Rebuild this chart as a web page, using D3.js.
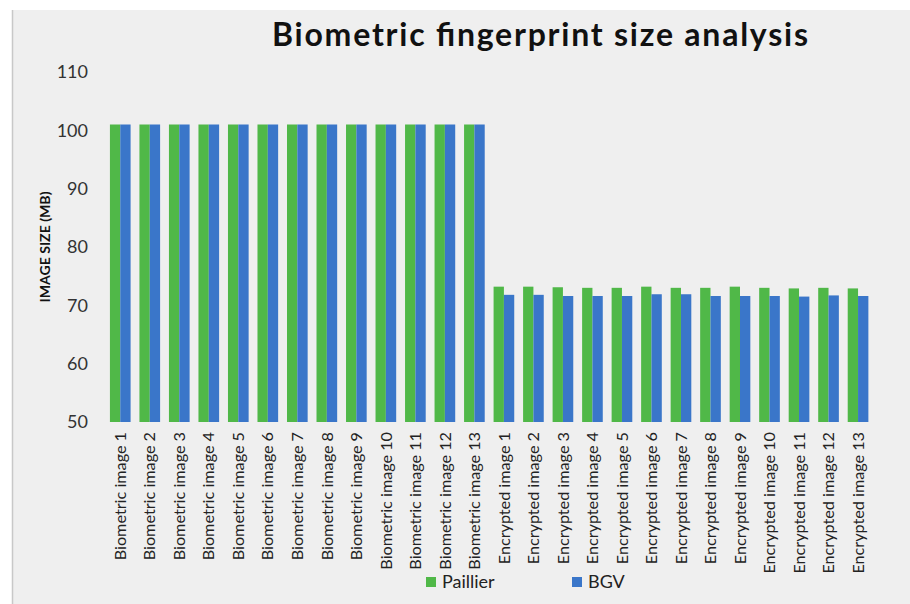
<!DOCTYPE html>
<html>
<head>
<meta charset="utf-8">
<script src="https://cdn.jsdelivr.net/npm/d3@7/dist/d3.min.js"></script>
<style>
  html, body { margin: 0; padding: 0; background: #ffffff; }
  svg { display: block; }
  text { font-family: Lato, "Open Sans", sans-serif; }
</style>
</head>
<body>
<svg id="chart" width="910" height="604"></svg>
<script>
// Image sizes (MB) for plain and encrypted fingerprints
const categories = [
  "Biometric image 1", "Biometric image 2", "Biometric image 3", "Biometric image 4",
  "Biometric image 5", "Biometric image 6", "Biometric image 7", "Biometric image 8",
  "Biometric image 9", "Biometric image 10", "Biometric image 11", "Biometric image 12",
  "Biometric image 13",
  "Encrypted image 1", "Encrypted image 2", "Encrypted image 3", "Encrypted image 4",
  "Encrypted image 5", "Encrypted image 6", "Encrypted image 7", "Encrypted image 8",
  "Encrypted image 9", "Encrypted image 10", "Encrypted image 11", "Encrypted image 12",
  "Encrypted image 13"
];
const seriesNames = ["Paillier", "BGV"];
const paillier = [
  101, 101, 101, 101, 101, 101, 101, 101, 101, 101, 101, 101, 101,
  73.2, 73.2, 73.1, 73.0, 73.0, 73.2, 73.0, 73.0, 73.2, 73.0, 72.9, 73.0, 72.9
];
const bgv = [
  101, 101, 101, 101, 101, 101, 101, 101, 101, 101, 101, 101, 101,
  71.8, 71.8, 71.6, 71.6, 71.6, 71.9, 71.9, 71.6, 71.6, 71.6, 71.5, 71.7, 71.6
];
const yTicks = [50, 60, 70, 80, 90, 100, 110];
const colors = ["#50b848", "#3a76c9"];

const svg = d3.select("#chart");

// chart panel
svg.append("rect")
  .attr("x", 12).attr("y", 10)
  .attr("width", 910 - 12).attr("height", 604 - 10)
  .attr("fill", "#efefef");
svg.append("line")
  .attr("x1", 12.5).attr("x2", 12.5).attr("y1", 10).attr("y2", 604)
  .attr("stroke", "#c8c8c8").attr("stroke-width", 1.5);

// title
svg.append("text")
  .attr("x", 540).attr("y", 46)
  .attr("text-anchor", "middle")
  .attr("font-size", 32).attr("font-weight", 700)
  .attr("textLength", 536).attr("lengthAdjust", "spacing")
  .attr("fill", "#111")
  .text("Biometric fingerprint size analysis");

const y = d3.scaleLinear().domain([50, 110]).range([422, 72]);
const x = d3.scaleBand().domain(categories).range([105.5, 872.8])
  .paddingInner(0.3).paddingOuter(0.15);
const xs = d3.scaleBand().domain(seriesNames).range([0, x.bandwidth()]);

// y axis labels
const yAxis = d3.axisLeft(y).tickValues(yTicks).tickSize(0).tickPadding(0);
const gy = svg.append("g").attr("transform", "translate(88,0)").call(yAxis);
gy.select(".domain").remove();
gy.selectAll("text")
  .attr("font-family", "Lato, sans-serif")
  .attr("font-size", 18).attr("fill", "#333");

svg.append("text")
  .attr("transform", "translate(50,247) rotate(-90)")
  .attr("text-anchor", "middle")
  .attr("font-size", 13.5).attr("font-weight", 700).attr("fill", "#111")
  .attr("textLength", 111).attr("lengthAdjust", "spacingAndGlyphs")
  .text("IMAGE SIZE (MB)");

// bars
const rows = categories.map((c, i) => ({ c, vals: [paillier[i], bgv[i]] }));
const groups = svg.append("g").selectAll("g").data(rows).join("g")
  .attr("transform", d => `translate(${x(d.c)},0)`);
groups.selectAll("rect")
  .data(d => d.vals.map((v, k) => ({ s: seriesNames[k], v, k })))
  .join("rect")
  .attr("x", d => xs(d.s))
  .attr("width", xs.bandwidth())
  .attr("y", d => y(d.v))
  .attr("height", d => y(50) - y(d.v))
  .attr("fill", d => colors[d.k]);

// category labels
const xAxis = d3.axisBottom(x).tickSize(0).tickPadding(0);
const gx = svg.append("g").attr("transform", "translate(0,432)").call(xAxis);
gx.select(".domain").remove();
gx.selectAll("text")
  .attr("font-family", "Lato, sans-serif")
  .attr("font-size", 16.2).attr("fill", "#222")
  .attr("text-anchor", "end")
  .attr("dy", "0.35em")
  .attr("transform", "rotate(-90)")
  .attr("x", 0).attr("y", 0);

// legend
const legend = svg.append("g").selectAll("g").data(seriesNames).join("g")
  .attr("transform", (d, i) => `translate(${[426, 572][i]},582)`);
legend.append("rect")
  .attr("x", 0).attr("y", -5).attr("width", 10).attr("height", 10)
  .attr("fill", (d, i) => colors[i]);
legend.append("text")
  .attr("x", 16).attr("y", 0).attr("dy", "0.35em")
  .attr("font-size", 18).attr("fill", "#222")
  .text(d => d);
</script>
</body>
</html>
